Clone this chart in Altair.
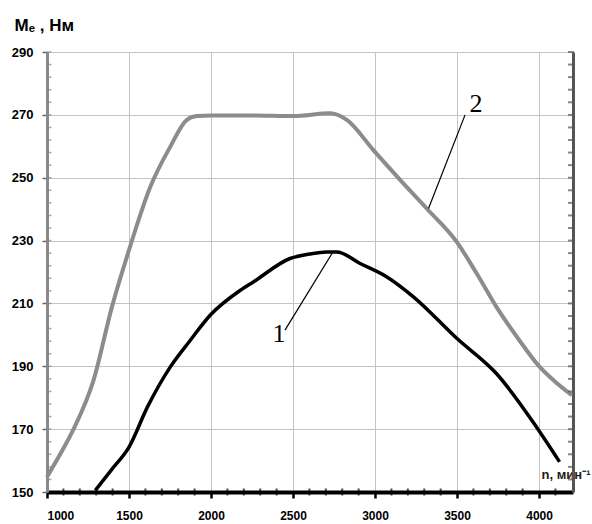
import altair as alt
import pandas as pd

# Curve 2 (gray)
n2 = [1000, 1080, 1162, 1284, 1396, 1500, 1630, 1752, 1853, 1915, 2000, 2250, 2500, 2726, 2828, 2990, 3150, 3315, 3498, 3620, 3740, 3870, 4004, 4100, 4200]
m2 = [154.8, 162, 170, 185.6, 208.9, 227, 247.1, 259.9, 268.4, 269.6, 269.8, 269.8, 269.6, 270.5, 268.4, 258.8, 249.5, 240.2, 229.6, 219.5, 208.9, 199, 189.8, 185, 180.8]

# Curve 1 (black)
n1 = [1294, 1400, 1500, 1612, 1752, 1874, 1996, 2179, 2260, 2482, 2600, 2706, 2767, 2909, 3070, 3234, 3498, 3740, 3984, 4125]
m1 = [150.5, 157.5, 164.3, 177, 189.8, 198.3, 206.3, 214.2, 216.9, 224.3, 225.7, 226.4, 226.4, 222.7, 218.5, 212.1, 198.9, 187.7, 170.7, 159.6]

# Annotation labels and leader lines
ann_label = ["1", "2"]
ann_n = [2415, 3615]
ann_m = [200.3, 273.3]
lead_n1 = [2451, 3549]
lead_m1 = [201.5, 270]
lead_n2 = [2740, 3326]
lead_m2 = [226.1, 240.2]

x_major = [1000, 1500, 2000, 2500, 3000, 3500, 4000]
y_major = [150, 170, 190, 210, 230, 250, 270, 290]
x_minor = [1100, 1200, 1300, 1400, 1600, 1700, 1800, 1900, 2100, 2200, 2300, 2400,
           2600, 2700, 2800, 2900, 3100, 3200, 3300, 3400, 3600, 3700, 3800, 3900, 4100]
y_minor = [154, 158, 162, 166, 170, 174, 178, 182, 186, 190, 194, 198, 202, 206, 210,
           214, 218, 222, 226, 230, 234, 238, 242, 246, 250, 254, 258, 262, 266, 270,
           274, 278, 282, 286, 290]

W, H = 526, 440

df1 = pd.DataFrame({"n": n1, "m": m1})
df2 = pd.DataFrame({"n": n2, "m": m2})
dfa = pd.DataFrame({"label": ann_label, "n": ann_n, "m": ann_m})
dfl = pd.DataFrame({"n": lead_n1, "m": lead_m1, "n2": lead_n2, "m2": lead_m2})
dfx = pd.DataFrame({"n": x_minor})
dfr = pd.DataFrame({"m": y_minor})

xs = alt.Scale(domain=[1000, 4207], nice=False, zero=False)
ys = alt.Scale(domain=[150, 290], nice=False, zero=False)

x_axis = alt.Axis(values=x_major, format="d", grid=True, gridColor="#c4c4c4", gridWidth=1,
                  domainColor="#000", domainWidth=4, tickColor="#000", tickWidth=2.5, tickSize=6,
                  labelFont="Liberation Sans", labelFontWeight="bold", labelFontSize=12,
                  labelPadding=12, labelColor="#000",
                  title="n, мин⁻¹", titleFont="Liberation Sans", titleFontSize=13,
                  titleFontWeight="bold", titleAngle=0, titleAlign="left",
                  titleX=494, titleY=-14, titleBaseline="alphabetic", titleColor="#222")
y_axis = alt.Axis(values=y_major, grid=True, gridColor="#c4c4c4", gridWidth=1,
                  domainColor="#8a8a8a", domainWidth=3, tickColor="#666", tickWidth=1.5, tickSize=5,
                  labelFont="Liberation Sans", labelFontWeight="bold", labelFontSize=13,
                  labelPadding=9, labelColor="#000",
                  title="Mₑ , Нм", titleFont="Liberation Sans", titleFontSize=17,
                  titleFontWeight="bold", titleAngle=0, titleAlign="left",
                  titleX=-33, titleY=-22, titleBaseline="alphabetic", titleColor="#000")

Y = alt.Y("m:Q", scale=ys, axis=y_axis)
X = alt.X("n:Q", scale=xs, axis=x_axis)

base2 = alt.Chart(df2).mark_line(color="#8c8c8c", strokeWidth=4, interpolate="monotone").encode(x=X, y=Y)
line1 = alt.Chart(df1).mark_line(color="#000", strokeWidth=3.5, interpolate="monotone").encode(x=X, y=Y)
leaders = alt.Chart(dfl).mark_rule(color="#000", strokeWidth=1.2).encode(x=X, y=Y, x2="n2:Q", y2="m2:Q")
labels = alt.Chart(dfa).mark_text(font="Liberation Serif", fontSize=26, color="#000").encode(
    x=X, y=Y, text="label:N"
)
minor_x = alt.Chart(dfx).mark_tick(color="#000", thickness=2, size=7, orient="vertical").encode(
    x=X, y=alt.value(H)
)
minor_left = alt.Chart(dfr).mark_tick(color="#888", thickness=1.5, size=5, orient="horizontal").encode(
    y=Y, x=alt.value(2)
)
main = alt.layer(base2, line1, leaders, labels, minor_x, minor_left)

right = alt.Chart(dfr).mark_tick(color="#555", thickness=2, size=6, orient="horizontal").encode(
    y=alt.Y("m:Q", scale=ys, axis=alt.Axis(orient="right", labels=False, ticks=False,
                                            title=None, grid=False, domainColor="#555", domainWidth=3)),
    x=alt.value(W - 2),
)

chart = alt.layer(main, right).resolve_axis(y="independent").properties(
    width=W, height=H,
    autosize=alt.AutoSizeParams(type="none"),
    padding={"left": 47, "top": 52, "right": 19, "bottom": 32},
    background="white",
).configure_view(stroke=None)

chart.save("out.html", embed_options={"renderer": "svg", "actions": False})
